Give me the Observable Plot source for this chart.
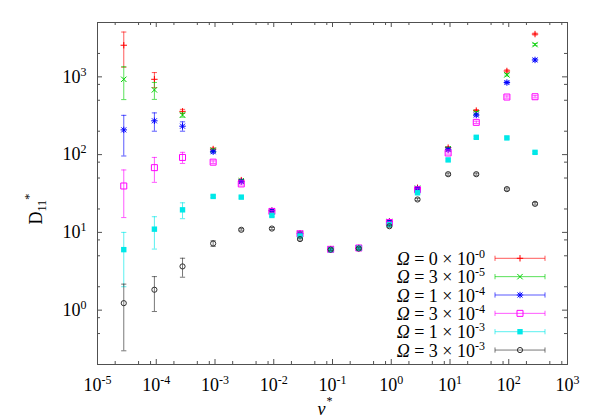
<!DOCTYPE html>
<html><head><meta charset="utf-8">
<script src="https://cdn.jsdelivr.net/npm/d3@7"></script>
<script src="https://cdn.jsdelivr.net/npm/@observablehq/plot@0.6"></script>
<style>
body{margin:0;background:#fff}
#chart{width:598px;height:419px}
svg text{white-space:pre}
</style>
</head><body><div id="chart"></div>
<script>
// ν* values (columns)
const nu = [2.8e-5, 9.3e-5, 2.8e-4, 9.3e-4, 2.8e-3, 9.3e-3, 2.8e-2, 9.3e-2, 0.28, 0.93, 2.8, 9.3, 28, 93, 280];

// Legend labels: Ω = mantissa × 10^exponent
const omegaMant = ["0", "3", "1", "3", "1", "3"];
const omegaExp  = ["-0", "-5", "-4", "-4", "-3", "-3"];
const colors = ["#ff0000", "#00d000", "#0000ff", "#ff00ff", "#00e8e8", "#303030"];

// D11* values per series
const D_omega0    = [2550, 930, 360, 118, 47, 19.0, 9.7, 6.1, 6.3, 13.8, 37.5, 123, 368, 1190, 3550];
const D_omega3e5  = [930, 680, 323, 114, 46, 18.8, 9.7, 6.1, 6.3, 13.8, 37.0, 119, 345, 1060, 2600];
const D_omega1e4  = [208, 272, 232, 109, 45, 19.0, 9.6, 6.05, 6.3, 13.7, 36.5, 116, 323, 845, 1650];
const D_omega3e4  = [39.5, 68, 92, 80, 42, 18.6, 9.6, 6.05, 6.3, 13.4, 35.3, 105, 260, 550, 555];
const D_omega1e3  = [6.0, 11.0, 19.5, 29, 28.4, 16.5, 9.0, 6.0, 6.25, 12.6, 32.3, 85.5, 167, 164, 107];
const D_omega3e3  = [1.23, 1.83, 3.65, 7.2, 10.8, 11.2, 8.2, 6.0, 6.2, 12.0, 26.5, 56, 56, 36, 23.3];

// error bars (±)
const E_omega0    = [1220, 205, 22, 4, 1.5, 0.5, 0.3, 0.15, 0.15, 0.4, 1.2, 4, 12, 40, 100];
const E_omega3e5  = [420, 167, 20, 4, 1.5, 0.5, 0.3, 0.15, 0.15, 0.4, 1.2, 4, 12, 35, 80];
const E_omega1e4  = [112, 72, 32, 4, 1.5, 0.5, 0.3, 0.15, 0.15, 0.4, 1.2, 4, 10, 28, 55];
const E_omega3e4  = [24, 24, 15, 3, 1.3, 0.5, 0.3, 0.15, 0.15, 0.4, 1.1, 3.5, 9, 18, 18];
const E_omega1e3  = [4, 4.9, 4.5, 1, 0.9, 0.5, 0.3, 0.15, 0.15, 0.4, 1.0, 2.8, 5.5, 5, 3.5];
const E_omega3e3  = [0.93, 0.87, 1.0, 0.6, 0.35, 0.35, 0.25, 0.15, 0.15, 0.35, 0.9, 1.8, 1.8, 1.2, 0.8];

// axis ticks
const xMajor = [1e-5, 1e-4, 1e-3, 1e-2, 1e-1, 1e0, 1e1, 1e2, 1e3];
const yMajor = [1, 10, 100, 1000];
const yDecades = [0.1, 1, 10, 100, 1000];
const minorMult = [2, 5, 8];

const Dvals = [D_omega0, D_omega3e5, D_omega1e4, D_omega3e4, D_omega1e3, D_omega3e3];
const Evals = [E_omega0, E_omega3e5, E_omega1e4, E_omega3e4, E_omega1e3, E_omega3e3];

const sym = f => ({draw(c) { f(c); }});
const plusSym = sym(c => {c.moveTo(-3.2,0);c.lineTo(3.2,0);c.moveTo(0,-3.2);c.lineTo(0,3.2);});
const timesSym = sym(c => {const a=2.7;c.moveTo(-a,-a);c.lineTo(a,a);c.moveTo(-a,a);c.lineTo(a,-a);});
const starSym = sym(c => {c.moveTo(-3.2,0);c.lineTo(3.2,0);c.moveTo(0,-3.2);c.lineTo(0,3.2);
  const a=2.5;c.moveTo(-a,-a);c.lineTo(a,a);c.moveTo(-a,a);c.lineTo(a,-a);});
const squareSym = sym(c => {c.rect(-3,-3,6,6);});
const fsquareSym = sym(c => {c.rect(-2.7,-2.7,5.4,5.4);});
const circleSym = sym(c => {c.moveTo(2.6,0);c.arc(0,0,2.6,0,2*Math.PI);});
const capSym = sym(c => {c.moveTo(-2.6,0);c.lineTo(2.6,0);});
const markers = [plusSym, timesSym, starSym, squareSym, fsquareSym, circleSym];
const filled = [false, false, false, false, true, false];

const series = Dvals.map((D, s) => D.map((v, i) => ({nu: nu[i], D: v, err: Evals[s][i], s})));

const W = 598 - 97 - 31, H = 419 - 22 - 55;
const xMinor = xMajor.slice(0, -1).flatMap(d => minorMult.map(m => d * m));
const yMinor = yDecades.flatMap(d => minorMult.map(m => d * m)).filter(v => v > 0.2 && v < 5000);
const axisStroke = "#505050";

const seriesMarks = series.flatMap((rows, s) => [
  Plot.ruleX(rows, {x: "nu", y1: d => d.D - d.err, y2: d => d.D + d.err, stroke: colors[s], strokeOpacity: 0.65, strokeWidth: 1}),
  Plot.dot(rows, {x: "nu", y: d => d.D - d.err, symbol: capSym, fill: "none", stroke: colors[s], strokeOpacity: 0.65, strokeWidth: 1}),
  Plot.dot(rows, {x: "nu", y: d => d.D + d.err, symbol: capSym, fill: "none", stroke: colors[s], strokeOpacity: 0.65, strokeWidth: 1}),
  Plot.dot(rows, {x: "nu", y: "D", symbol: markers[s], fill: filled[s] ? colors[s] : "none", stroke: filled[s] ? "none" : colors[s], strokeWidth: 1})
]);

const plot = Plot.plot({
  width: 598, height: 419,
  marginLeft: 97, marginRight: 31, marginTop: 22, marginBottom: 55,
  style: {fontFamily: "'Liberation Serif', 'Times New Roman', serif", fontSize: "18px", background: "#fff", color: "#000"},
  x: {type: "log", domain: [1e-5, 1e3]},
  y: {type: "log", domain: [0.2, 5000]},
  marks: [
    // inward ticks
    Plot.tickX(xMajor, {insetTop: H - 5, stroke: axisStroke}),
    Plot.tickX(xMajor, {insetBottom: H - 5, stroke: axisStroke}),
    Plot.tickX(xMinor, {insetTop: H - 3, stroke: axisStroke}),
    Plot.tickX(xMinor, {insetBottom: H - 3, stroke: axisStroke}),
    Plot.tickY(yMajor, {insetRight: W - 5, stroke: axisStroke}),
    Plot.tickY(yMajor, {insetLeft: W - 5, stroke: axisStroke}),
    Plot.tickY(yMinor, {insetRight: W - 3, stroke: axisStroke}),
    Plot.tickY(yMinor, {insetLeft: W - 3, stroke: axisStroke}),
    Plot.axisX(xMajor, {anchor: "bottom", tickSize: 0, tickPadding: 14, label: null, fontSize: 18,
      tickFormat: d => "10^" + Math.round(Math.log10(d))}),
    Plot.axisY(yMajor, {anchor: "left", tickSize: 0, tickPadding: 11, label: null, fontSize: 18,
      tickFormat: d => "10^" + Math.round(Math.log10(d))}),
    ...seriesMarks,
    Plot.frame({stroke: axisStroke, strokeWidth: 1})
  ]
});

document.getElementById("chart").append(plot);

// superscripts in tick labels
plot.querySelectorAll('[aria-label="x-axis tick label"] text, [aria-label="y-axis tick label"] text').forEach(t => {
  const [b, e] = t.textContent.split("^");
  t.textContent = "";
  const ns = "http://www.w3.org/2000/svg";
  const t1 = document.createElementNS(ns, "tspan"); t1.textContent = b;
  const t2 = document.createElementNS(ns, "tspan"); t2.textContent = e;
  t2.setAttribute("dy", "-7"); t2.setAttribute("font-size", "12");
  t.append(t1, t2);
});

const svg = d3.select(plot);
const font = "'Liberation Serif', 'Times New Roman', serif";

// y label D11*
const yl = svg.append("text").attr("transform", "translate(42,209) rotate(-90)")
  .attr("font-family", font).attr("font-size", 18);
yl.append("tspan").text("D");
yl.append("tspan").attr("font-size", 12).attr("dy", 4).text("11");
yl.append("tspan").attr("font-size", 13).attr("dy", -13).text("*");

// x label ν*
const xl = svg.append("text").attr("x", 325).attr("y", 415)
  .attr("font-family", font).attr("font-size", 18);
xl.append("tspan").attr("font-style", "italic").text("ν");
xl.append("tspan").attr("font-size", 12).attr("dy", -10).attr("dx", 1).text("*");

// legend
const lg = svg.append("g").attr("font-family", font).attr("font-size", 18);
omegaMant.forEach((m, i) => {
  const yLine = 258.3 + i * 18.35;
  const t = lg.append("text").attr("x", 485).attr("y", yLine + 6.5).attr("text-anchor", "end");
  t.append("tspan").attr("font-style", "italic").text("Ω");
  t.append("tspan").text(` = ${m} × 10`);
  t.append("tspan").attr("font-size", 12).attr("dy", -7).text(omegaExp[i]);
  const g = lg.append("g").attr("stroke", colors[i]);
  g.append("line").attr("x1", 495).attr("x2", 545).attr("y1", yLine).attr("y2", yLine).attr("stroke-opacity", 0.65);
  g.append("line").attr("x1", 495).attr("x2", 495).attr("y1", yLine - 2.6).attr("y2", yLine + 2.6).attr("stroke-opacity", 0.65);
  g.append("line").attr("x1", 545).attr("x2", 545).attr("y1", yLine - 2.6).attr("y2", yLine + 2.6).attr("stroke-opacity", 0.65);
  g.append("path").attr("d", d3.symbol(markers[i])()).attr("transform", `translate(520,${yLine})`)
    .attr("fill", filled[i] ? colors[i] : "none").attr("stroke", filled[i] ? "none" : colors[i]);
});
</script>
</body></html>
